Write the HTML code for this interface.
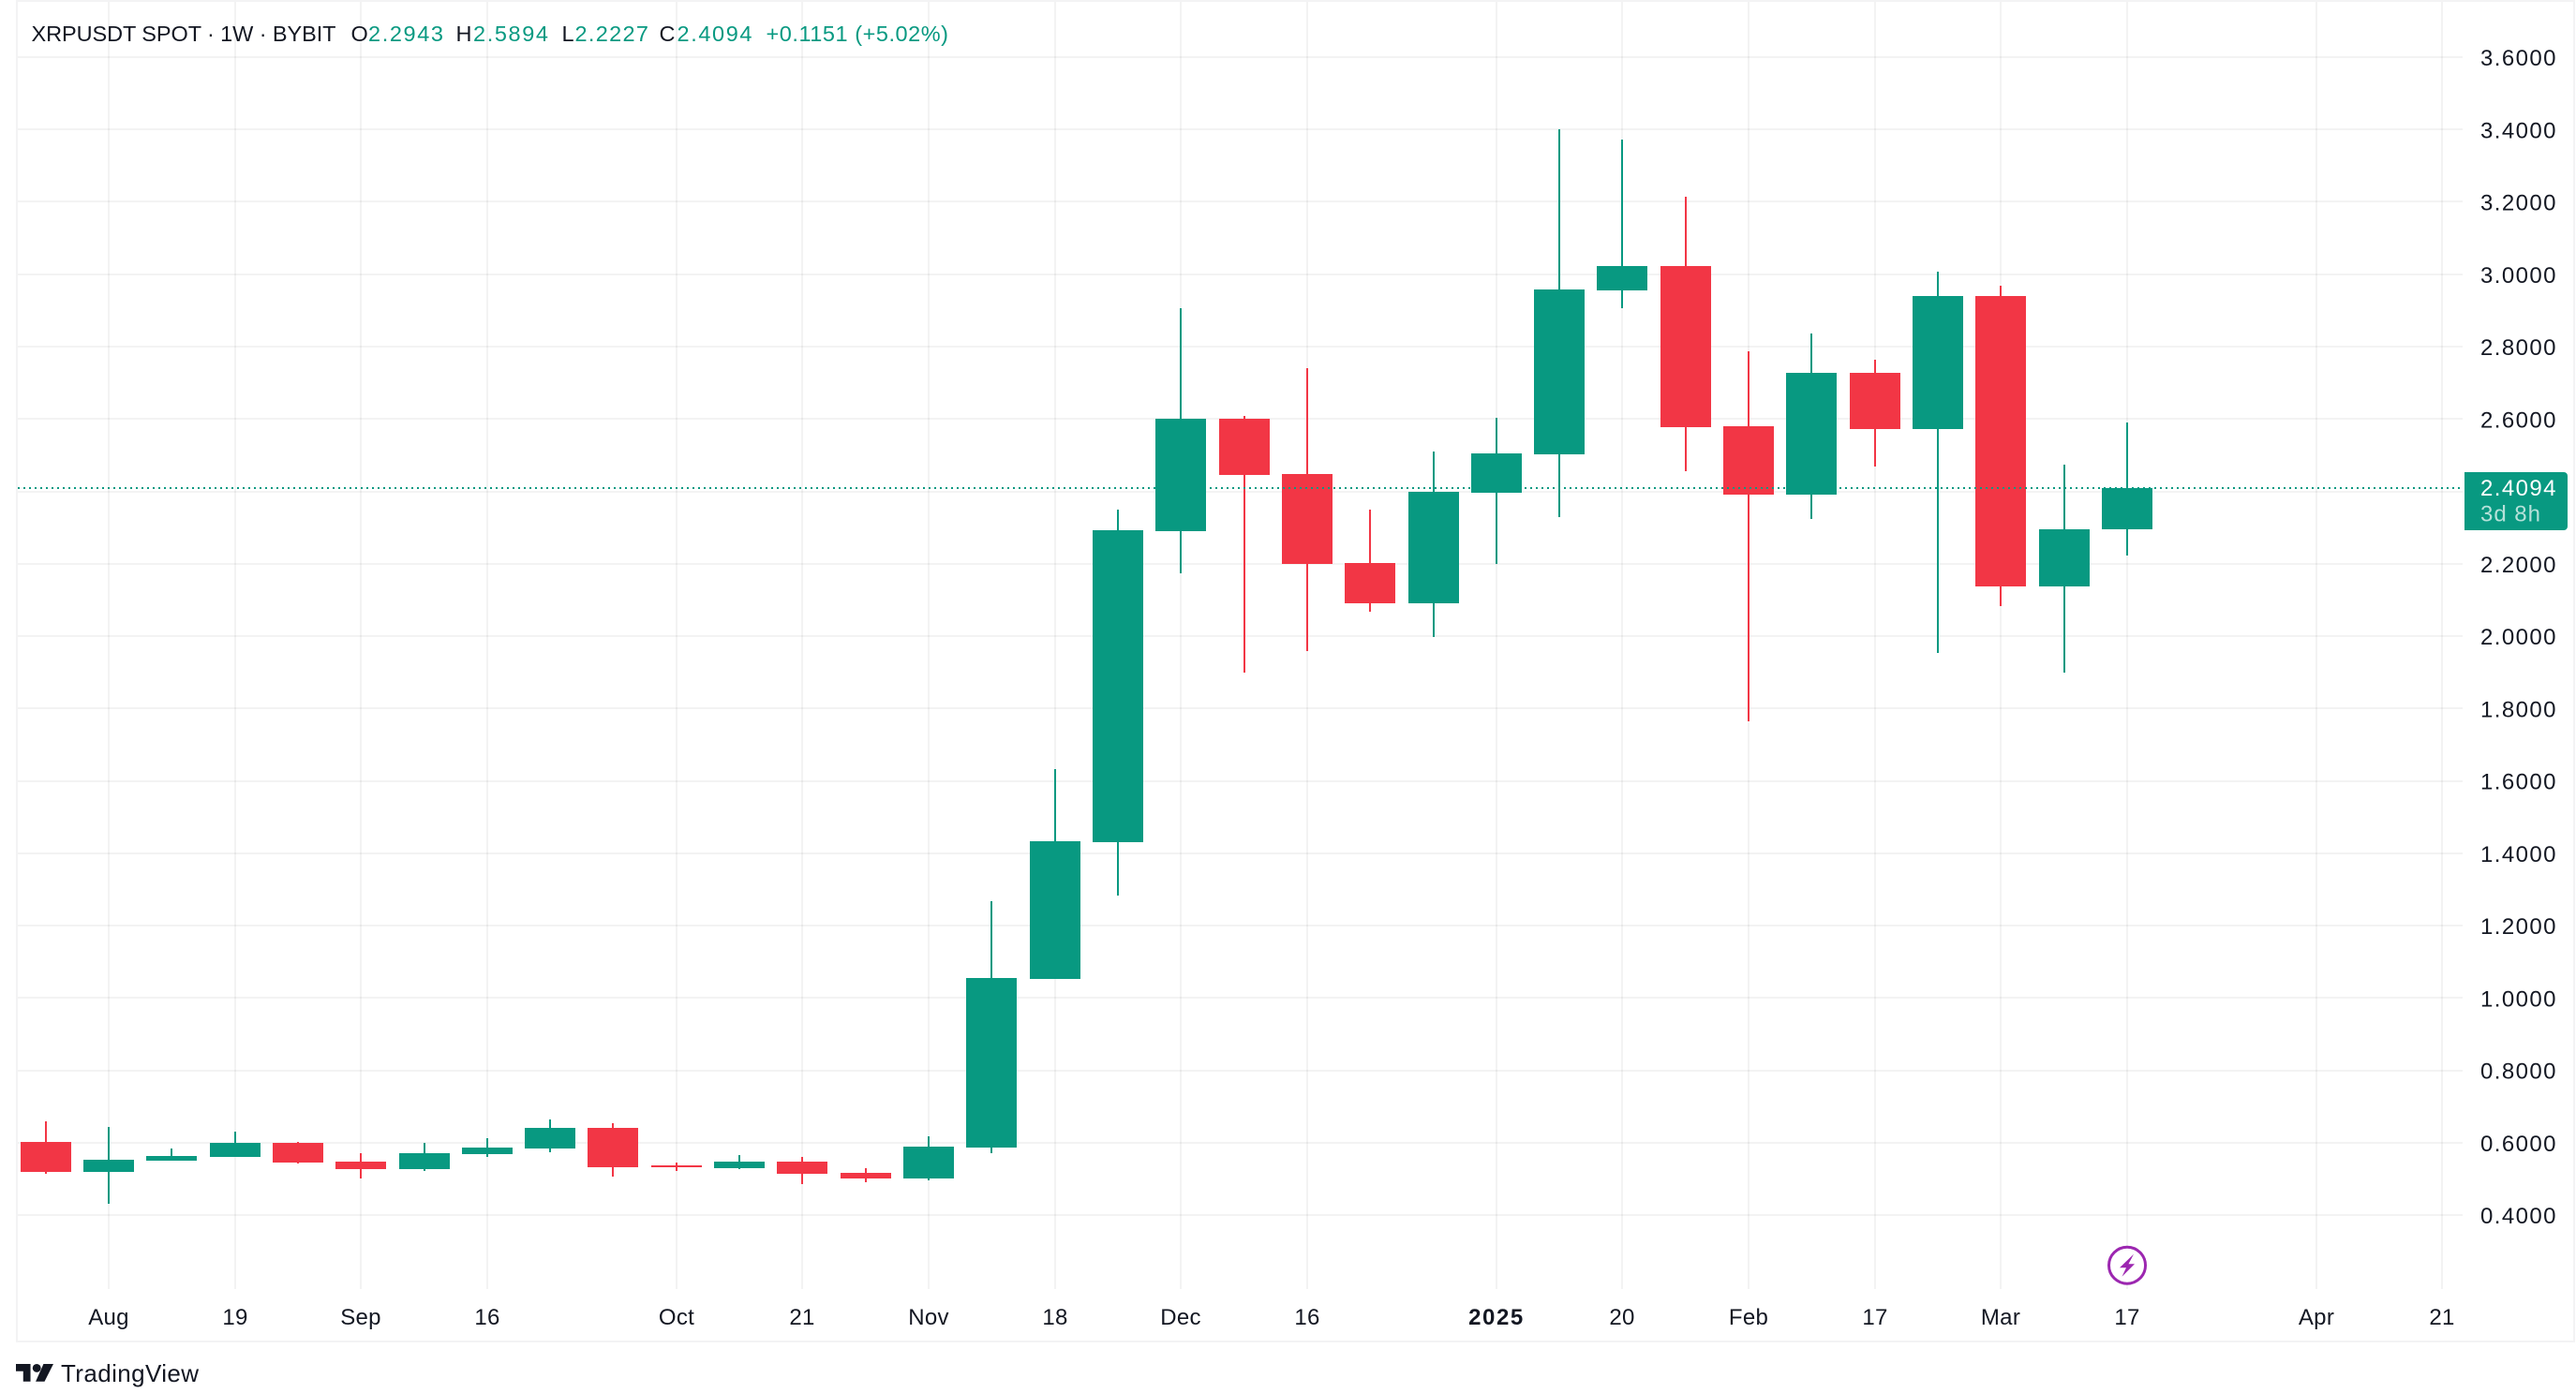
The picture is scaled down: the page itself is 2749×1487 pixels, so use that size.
<!DOCTYPE html>
<html lang="en">
<head>
<meta charset="utf-8">
<title>XRPUSDT SPOT 1W BYBIT</title>
<style>
html,body{margin:0;padding:0;background:#fff;width:2749px;height:1487px;overflow:hidden}
svg{display:block;position:absolute;left:0;top:0}
text{font-family:"Liberation Sans",sans-serif;fill:#131722}
.v{fill:#089981}
</style>
</head>
<body>
<svg id="chart" xmlns="http://www.w3.org/2000/svg" width="2749" height="1487" viewBox="0 0 2749 1487">
  <rect x="0" y="0" width="2749" height="1487" fill="#ffffff"/>
  <g id="grid"></g>
  <g id="candles"></g>
  <line id="last-price-line" x1="19" x2="2628" stroke="#089981" stroke-width="2" stroke-dasharray="2 4"/>
  <g id="price-axis"></g>
  <g id="time-axis"></g>
  <g fill="#f3f3f4">
    <rect x="17" y="0" width="2731" height="2"/>
    <rect x="17" y="0" width="2" height="1433"/>
    <rect x="17" y="1431" width="2731" height="2"/>
    <rect x="2746" y="0" width="2" height="1433"/>
  </g>
  <g font-size="23.5">
    <text x="33.5" y="44" textLength="325" lengthAdjust="spacing">XRPUSDT SPOT · 1W · BYBIT</text>
    <text x="374.5" y="44">O</text>
    <text class="v" x="393" y="44" textLength="80" lengthAdjust="spacing">2.2943</text>
    <text x="486.5" y="44">H</text>
    <text class="v" x="505" y="44" textLength="80" lengthAdjust="spacing">2.5894</text>
    <text x="599.5" y="44">L</text>
    <text class="v" x="613.5" y="44" textLength="78.5" lengthAdjust="spacing">2.2227</text>
    <text x="703.5" y="44">C</text>
    <text class="v" x="722.5" y="44" textLength="80" lengthAdjust="spacing">2.4094</text>
    <text class="v" x="817.5" y="44" textLength="194.5" lengthAdjust="spacing">+0.1151 (+5.02%)</text>
  </g>
  <g>
    <path d="M2630 504H2736a4 4 0 0 1 4 4V562a4 4 0 0 1 -4 4H2630Z" fill="#089981"/>
    <text x="2647" y="529" font-size="24" textLength="80.5" lengthAdjust="spacing" style="fill:#fff">2.4094</text>
    <text x="2647" y="556.5" font-size="24" textLength="64" lengthAdjust="spacing" style="fill:#fff;fill-opacity:.7">3d 8h</text>
  </g>
  <g id="event-badge">
    <ellipse cx="0" cy="1350.7" rx="19.5" ry="19.5" fill="#fff" stroke="#9C27B0" stroke-width="3"/>
    <path d="M7 -12 L-8 2.5 H-1 L-5.5 12 L8 -1.5 H1.5 Z" transform="translate(0 1350.7)" fill="#9C27B0"/>
  </g>
  <g>
    <g transform="translate(17 1451.5) scale(1.11)" fill="#131722">
      <path d="M14 21H7V11H0V4h14z"/>
      <circle cx="20" cy="8" r="4"/>
      <path d="M27.5 21H19l7.5-17H36z"/>
    </g>
    <text x="65" y="1475" font-size="26" textLength="147" lengthAdjust="spacing">TradingView</text>
  </g>
</svg>
<script>
var opens  = [0.6019,0.5199,0.5501,0.5605,0.5994,0.5475,0.5268,0.5683,0.5838,0.6407,0.5372,0.5294,0.5475,0.5165,0.5009,0.5864,1.0524,1.4304,2.2899,2.6006,2.4479,2.2019,2.0906,2.3961,2.5022,2.9553,3.0226,2.5799,2.3909,2.7275,2.5721,2.9398,2.1372,2.2943];
var highs  = [0.6588,0.6433,0.5838,0.6304,0.6019,0.5709,0.5994,0.6123,0.6640,0.6537,0.5450,0.5657,0.5605,0.5294,0.6174,1.2673,1.6323,2.3495,2.9061,2.6084,2.7404,2.3495,2.5100,2.6032,3.4006,3.3721,3.2142,2.7870,2.8362,2.7637,3.0071,2.9683,2.4738,2.5894];
var lows   = [0.5146,0.4310,0.5501,0.5605,0.5424,0.5017,0.5217,0.5605,0.5735,0.5061,0.5217,0.5268,0.4854,0.4906,0.4958,0.5709,1.0524,1.2828,2.1734,1.8990,1.9585,2.0673,1.9974,2.1993,2.3288,2.9061,2.4556,1.7644,2.3236,2.4686,1.9534,2.0828,1.8990,2.2227];
var closes = [0.5199,0.5527,0.5631,0.5994,0.5457,0.5268,0.5709,0.5864,0.6407,0.5320,0.5320,0.5475,0.5139,0.5009,0.5890,1.0550,1.4330,2.2925,2.6006,2.4453,2.1993,2.0906,2.3987,2.5048,2.9579,3.0226,2.5773,2.3909,2.7275,2.5721,2.9398,2.1372,2.2951,2.4094];
var priceTicks = [3.6,3.4,3.2,3.0,2.8,2.6,2.4,2.2,2.0,1.8,1.6,1.4,1.2,1.0,0.8,0.6,0.4];
var timeTickBars = [1,3,5,7,10,12,14,16,18,20,23,25,27,29,31,33,36,38];
var timeTickLabels = ["Aug","19","Sep","16","Oct","21","Nov","18","Dec","16","2025","20","Feb","17","Mar","17","Apr","21"];
var lastPrice = 2.4094;
var eventBar = 33;

var SVG_NS = "http://www.w3.org/2000/svg";
function yScale(p){ return 61 + (3.6 - p) * 386.25; }
function xScale(i){ return 48.7 + 67.31 * i; }
function make(tag, parent, attrs){
  var el = document.createElementNS(SVG_NS, tag);
  for (var k in attrs) el.setAttribute(k, attrs[k]);
  parent.appendChild(el);
  return el;
}

var gridG = document.getElementById("grid");
var priceG = document.getElementById("price-axis");
var timeG = document.getElementById("time-axis");
var candleG = document.getElementById("candles");

priceTicks.forEach(function(p){
  var y = Math.round(yScale(p));
  var line = make("rect", gridG, {x:19, y:y-1, width:2609, height:2, fill:"#2e2e2e", "fill-opacity":0.06});
  
  
  var label = make("text", priceG, {x:2647, y:yScale(p)+9, "font-size":24, textLength:80.5, lengthAdjust:"spacing"});
  
  
  label.textContent = p.toFixed(4);
});

timeTickBars.forEach(function(b, n){
  var x = Math.round(xScale(b));
  var line = make("rect", gridG, {x:x-1, y:2, width:2, height:1374, fill:"#2e2e2e", "fill-opacity":0.06});
  
  
  var t = timeTickLabels[n];
  var label = make("text", timeG, {x:x, y:1414, "font-size":24, "text-anchor":"middle", "letter-spacing":"0.3"});
  
  
  if (t === "2025") {
    label.setAttribute("font-weight", "bold");
    label.setAttribute("letter-spacing", "1.6");
  }
  label.textContent = t;
});

opens.forEach(function(o, i){
  var c = closes[i];
  var color = c >= o ? "#089981" : "#F23645";
  var cx = xScale(i);
  var top = Math.round(yScale(Math.max(o, c)));
  var bottom = Math.round(yScale(Math.min(o, c)));
  var hy = Math.round(yScale(highs[i]));
  var ly = Math.round(yScale(lows[i]));
  var wick = make("rect", candleG, {x:Math.round(cx)-1, y:hy, width:2, height:Math.max(ly-hy,1), fill:color});
  
  
  var body = make("rect", candleG, {x:Math.round(cx)-27, y:top, width:54, height:Math.max(bottom-top,1), fill:color});
  
  
});

var ly = Math.round(yScale(lastPrice));
var lastLine = document.getElementById("last-price-line");
lastLine.setAttribute("y1", ly);
lastLine.setAttribute("y2", ly);
document.getElementById("event-badge").setAttribute("transform", "translate(" + Math.round(xScale(eventBar)) + " 0)");
</script>
</body>
</html>
